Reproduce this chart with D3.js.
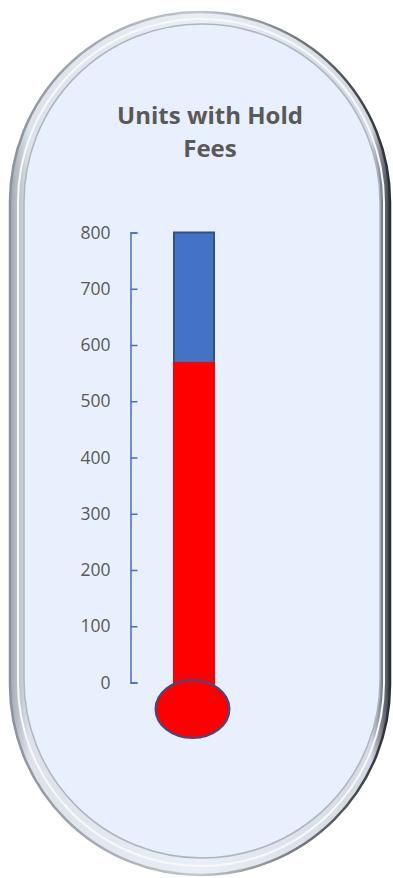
<!DOCTYPE html>
<html><head><meta charset="utf-8">
<script src="https://cdn.jsdelivr.net/npm/d3@7"></script>
<style>html,body{margin:0;padding:0;background:#fff;}svg{display:block;}</style>
</head><body>
<svg id="c" width="393" height="878"></svg>
<script>
const titleLines = ["Units with Hold", "Fees"];
const categories = ["Units with Hold Fees"];
const values = [570];
const maxValue = [800];
const tickValues = [0, 100, 200, 300, 400, 500, 600, 700, 800];

const svg = d3.select("#c");
const defs = svg.append("defs");

const g1 = defs.append("linearGradient").attr("id","rim").attr("x1","0").attr("x2","1").attr("y1","0").attr("y2","0");
g1.append("stop").attr("offset","0").attr("stop-color","#a3a9b1");
g1.append("stop").attr("offset","0.05").attr("stop-color","#dde2ea");
g1.append("stop").attr("offset","0.5").attr("stop-color","#eaeef5");
g1.append("stop").attr("offset","0.95").attr("stop-color","#d3d9e2");
g1.append("stop").attr("offset","1").attr("stop-color","#3a3e45");

const g2 = defs.append("linearGradient").attr("id","rimStroke").attr("x1","0").attr("x2","1").attr("y1","0").attr("y2","0");
g2.append("stop").attr("offset","0").attr("stop-color","#8c929b");
g2.append("stop").attr("offset","0.5").attr("stop-color","#c3c8cf");
g2.append("stop").attr("offset","1").attr("stop-color","#2c3036");

function stadium(x0, y0, x1, y1) {
  const r = (x1 - x0) / 2;
  const p = d3.path();
  p.moveTo(x0, y0 + r);
  p.arc(x0 + r, y0 + r, r, Math.PI, 0);
  p.lineTo(x1, y1 - r);
  p.arc(x0 + r, y1 - r, r, 0, Math.PI);
  p.closePath();
  return p.toString();
}

svg.append("path").attr("d", stadium(10, 12, 390, 875))
  .attr("fill", "url(#rim)").attr("stroke", "url(#rimStroke)").attr("stroke-width", 2.5);
svg.append("path").attr("d", stadium(18, 19, 384, 866))
  .attr("fill", "none").attr("stroke", "#f6f8fb").attr("stroke-width", 2);
svg.append("path").attr("d", stadium(24, 24, 380, 858))
  .attr("fill", "#e8effd").attr("stroke", "#aeb5c0").attr("stroke-width", 1.5);

// title
const title = svg.append("text").attr("x", 210).attr("text-anchor", "middle")
  .attr("font-family", "'Open Sans', sans-serif").attr("font-weight", "bold")
  .attr("font-size", 24).attr("fill", "#595959");
titleLines.forEach((t, i) => title.append("tspan").attr("x", 210).attr("y", 124 + i * 33).text(t));

// scales
const y = d3.scaleLinear().domain([0, maxValue[0]]).range([682.5, 232.5]);
const x = d3.scaleBand().domain(categories).range([174, 214]).padding(0);

// axis
const axis = d3.axisLeft(y).tickValues(tickValues).tickSizeInner(-7).tickSizeOuter(-7).tickPadding(20).tickFormat(d3.format("d"));
const ag = svg.append("g").attr("transform", "translate(130.5,0)").call(axis);
ag.select(".domain").attr("stroke", "#4472c4").attr("stroke-width", 1.5);
ag.selectAll(".tick line").attr("stroke", "#4472c4").attr("stroke-width", 1.5);
ag.selectAll(".tick text").attr("fill", "#595959").attr("font-size", 17.5)
  .attr("font-family", "'Open Sans', sans-serif");

// background (max) bar
svg.selectAll("rect.bg").data(categories).join("rect").attr("class", "bg")
  .attr("x", d => x(d)).attr("width", x.bandwidth())
  .attr("y", y(maxValue[0])).attr("height", y(0) - y(maxValue[0]))
  .attr("fill", "#4472c4").attr("stroke", "#2f528f").attr("stroke-width", 2);

// value bar
svg.selectAll("rect.val").data(values).join("rect").attr("class", "val")
  .attr("x", (d, i) => x(categories[i]) - 1).attr("width", x.bandwidth() + 2)
  .attr("y", d => y(d)).attr("height", d => y(0) - y(d) + 10)
  .attr("fill", "#ff0000");

// bulb
svg.selectAll("ellipse.bulb").data(categories).join("ellipse").attr("class", "bulb")
  .attr("cx", d => x(d) + x.bandwidth() / 2 - 1.5).attr("cy", y(0) + 26.5)
  .attr("rx", 37).attr("ry", 29)
  .attr("fill", "#ff0000").attr("stroke", "#2f528f").attr("stroke-width", 2);
</script>
</body></html>
